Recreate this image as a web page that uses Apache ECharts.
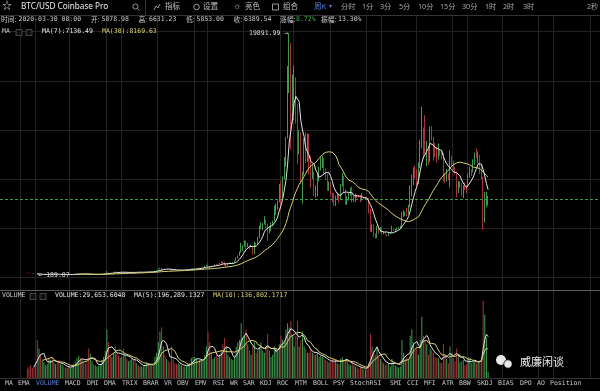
<!DOCTYPE html>
<html><head><meta charset="utf-8">
<script src="https://cdn.jsdelivr.net/npm/echarts@6/dist/echarts.min.js"></script>
<style>html,body{margin:0;padding:0;background:#000;}#c{width:600px;height:391px;}</style>
</head><body><div id="c"></div>
<script>
// ---- weekly candles [open, high, low, close], weeks start Monday 2014-12-01 ----
const y2014 = [[378,384,360,375],[375,378,340,350],[350,352,305,330],[330,336,310,317],[317,335,270,275]];
const y2015 = [
[275,300,263,268],[268,272,189.87,210],[210,255,205,253],[253,310,215,227],
[227,245,212,228],[228,260,215,235],[235,248,230,238],[238,265,234,260],
[260,298,258,275],[275,298,270,285],[285,292,245,247],[247,255,235,250],[250,260,240,255],
[255,260,235,237],[237,242,215,222],[222,238,218,228],[228,245,220,240],
[240,248,232,237],[237,245,233,236],[236,242,233,240],[240,242,222,225],
[225,232,220,230],[230,237,225,233],[233,252,232,244],[244,260,240,256],[256,282,250,272],
[272,300,263,290],[290,300,270,275],[275,296,272,291],[291,298,278,281],
[281,285,258,262],[262,275,255,258],[258,262,200,228],[228,236,198,231],[231,242,225,240],
[240,245,225,230],[230,234,225,232],[232,238,228,233],[233,248,232,245],
[245,255,240,254],[254,272,250,270],[270,295,265,294],[294,335,288,325],
[325,500,320,375],[375,390,300,330],[330,340,310,323],[323,380,315,378],[378,400,345,390],
[390,470,385,440],[440,467,430,438],[438,455,410,420],[420,435,415,430]];
const y2016 = [
[430,460,420,435],[435,448,365,380],[380,415,370,395],[395,400,365,368],
[368,390,365,378],[378,405,370,403],[403,440,400,435],[435,443,410,432],[432,440,405,410],
[410,420,405,414],[414,418,405,410],[410,420,405,415],[415,422,410,420],
[420,425,415,424],[424,432,420,430],[430,462,428,455],[455,468,440,450],
[450,465,440,460],[460,462,445,450],[450,455,435,445],[445,535,440,528],[528,590,525,580],
[580,700,575,690],[690,780,680,760],[760,765,550,660],[660,700,620,670],
[670,680,605,655],[655,680,645,660],[660,680,650,655],[655,660,620,625],
[625,630,480,590],[590,600,570,583],[583,590,570,580],[580,585,565,572],[572,610,565,605],
[605,630,600,608],[608,612,600,608],[608,610,590,602],[602,615,600,612],
[612,620,605,617],[617,645,610,640],[640,660,630,655],[655,720,650,700],[700,745,690,705],
[705,750,700,705],[705,750,700,740],[740,750,725,732],[732,775,725,765],
[765,785,755,775],[775,800,770,795],[795,940,790,920],[920,1000,890,1000]];
const y2017 = [
[1000,1150,880,905],[905,910,750,820],[820,930,810,920],[920,925,880,920],[920,1040,915,1020],
[1020,1070,950,1000],[1000,1060,990,1055],[1055,1190,1050,1180],[1180,1290,1170,1265],
[1265,1290,970,1230],[1230,1250,950,970],[970,1070,890,970],[970,1120,950,1090],
[1090,1210,1080,1180],[1180,1210,1160,1180],[1180,1260,1175,1250],[1250,1360,1245,1350],
[1350,1620,1340,1550],[1550,1780,1540,1760],[1760,2100,1750,2050],[2050,2800,2000,2300],[2300,2600,2150,2550],
[2550,3000,2500,2950],[2950,3000,2100,2600],[2600,2800,2460,2600],[2600,2600,2300,2500],
[2500,2650,2450,2520],[2520,2540,1850,1930],[1930,2900,1900,2760],[2760,2800,2500,2750],[2750,3300,2700,3230],
[3230,4200,3200,4100],[4100,4480,3900,4100],[4100,4400,3850,4350],[4350,4980,4300,4600],
[4600,4700,4000,4200],[4200,4350,2980,3700],[3700,4100,3580,3780],[3780,4450,3750,4380],
[4380,4620,4150,4600],[4600,5850,4600,5700],[5700,6000,5100,6000],[6000,6250,5500,6150],[6150,7600,6100,7400],
[7400,7880,5500,6550],[6550,8200,6500,8000],[8000,9800,8000,9700],[9700,11400,9000,11300],
[11300,17200,11300,15000],[15000,19891.99,15000,19100],[19100,19100,10400,13800],[13800,16500,12500,14150]];
const y2018 = [
[14150,17250,12800,16200],[16200,16300,12500,13600],[13600,14100,9200,11500],[11500,12000,10000,11750],[11750,11800,7600,8200],
[8200,8600,6000,8550],[8550,11300,8300,10400],[10400,11800,9300,9650],[9650,11700,9400,11450],
[11450,11700,8400,9550],[9550,9900,7300,8200],[8200,9200,8000,8450],[8450,8600,6600,6900],
[6900,7500,6500,7000],[7000,8400,6600,8000],[8000,9000,7800,8900],[8900,9750,8700,9250],[9250,9900,8900,9650],
[9650,9700,8400,8650],[8650,8880,7900,8200],[8200,8400,7050,7350],[7350,7800,7050,7650],
[7650,7750,6650,6750],[6750,6900,6100,6500],[6500,6850,5800,6150],[6150,6650,5800,6600],
[6600,6900,6350,6750],[6750,6800,6100,6350],[6350,7600,6300,7400],[7400,8500,7400,8200],[8200,8250,6900,7050],
[7050,7150,5900,6300],[6300,6600,5900,6400],[6400,6900,6250,6700],[6700,7300,6650,7300],
[7300,7400,6100,6250],[6250,6600,6150,6500],[6500,6800,6100,6700],[6700,6750,6450,6600],
[6600,6700,6500,6550],[6550,6700,6100,6300],[6300,6850,6250,6450],[6450,6500,6350,6400],[6400,6500,6300,6420],
[6420,6550,6300,6400],[6400,6450,5200,5600],[5600,5600,3700,3850],[3850,4300,3700,4100],
[4100,4300,3300,3550],[3550,3600,3150,3250],[3250,4200,3200,4000],[4000,4200,3550,3850],[3850,4100,3650,4050]];
const y2019 = [
[4050,4100,3500,3550],[3550,3750,3500,3550],[3550,3650,3450,3450],[3450,3500,3350,3400],
[3400,3700,3350,3650],[3650,3700,3550,3650],[3650,4200,3650,3950],[3950,3950,3750,3850],
[3850,3950,3700,3900],[3900,4050,3850,4000],[4000,4100,3950,4000],[4000,4200,3950,4150],
[4150,5350,4100,5050],[5050,5450,4900,5150],[5150,5350,5000,5300],[5300,5650,4950,5200],[5200,5900,5150,5750],
[5750,7500,5700,7250],[7250,8350,6600,8150],[8150,8950,7500,8750],[8750,9100,8050,8700],
[8700,8800,7450,7950],[7950,9350,7600,8950],[8950,11200,8900,10850],[10850,13880,10500,11900],
[11900,12200,9650,11450],[11450,13200,10000,10200],[10200,11100,9050,10650],[10650,10700,9150,9500],[9500,12300,9400,11800],
[11800,12300,11150,11400],[11400,11450,9500,10300],[10300,10950,9800,10100],[10100,10600,9350,9600],
[9600,10900,9600,10400],[10400,10450,9900,10300],[10300,10350,9600,10150],[10150,10150,7800,8050],[8050,8500,7700,7900],
[7900,8800,7800,8400],[8400,8450,7900,8200],[8200,10350,7300,9550],[9550,9900,8970,9200],
[9200,9500,8700,8800],[8800,9000,8400,8560],[8560,8600,6500,6900],[6900,7850,6850,7400],
[7400,7800,7300,7500],[7500,7650,6600,7100],[7100,7500,6450,7500],[7500,7700,7100,7454],[7454,7500,6850,7350]];
const y2020 = [
[7350,8450,7350,8180],[8180,9000,8100,8650],[8650,8800,8250,8600],[8600,9600,8550,9340],
[9340,10150,9150,10150],[10150,10500,9700,9900],[9900,10250,9300,9936],[9936,9970,8400,8530],
[8530,9200,8000,8030],[8030,8180,3858,5360],[5360,6950,4450,5830],[5830,6980,5700,5878.98],[5878.98,6631.23,5853,6389.54]];

// ---- weekly volume (BTC) ----
const v2014 = [45000,52000,60000,48000,55000];
const v2015 = [70000,180000,140000,110000, 80000,75000,60000,65000, 90000,85000,100000,75000,65000,
 70000,85000,65000,60000, 55000,50000,48000,55000, 50000,52000,68000,75000,95000,
 105000,95000,85000,78000, 70000,75000,140000,115000,80000, 65000,60000,55000,58000,
 65000,85000,100000,130000, 230000,170000,110000,100000,120000, 150000,115000,105000,95000];
const v2016 = [100000,140000,110000,90000, 80000,85000,95000,90000,85000, 70000,60000,55000,55000,
 55000,60000,75000,70000, 65000,60000,58000,100000,120000, 170000,220000,240000,150000,
 110000,90000,80000,75000, 150000,90000,70000,65000,70000, 65000,60000,55000,55000,
 55000,65000,70000,95000,100000, 100000,90000,80000,85000, 80000,85000,110000,150000];
const v2017 = [220000,170000,120000,90000,100000, 110000,95000,110000,130000, 160000,190000,150000,110000,
 100000,90000,85000,100000, 150000,170000,180000,260000,190000, 200000,230000,160000,130000,
 110000,150000,170000,120000,130000, 150000,170000,130000,120000, 140000,210000,130000,100000,
 110000,150000,140000,130000,160000, 200000,180000,170000,230000, 260000,240000,270000,200000];
const v2018 = [150000,200000,270000,150000,180000, 220000,150000,140000,120000, 120000,140000,120000,110000,
 110000,120000,100000,105000,100000, 90000,85000,80000,75000, 75000,90000,80000,85000,
 70000,65000,90000,100000,85000, 90000,80000,65000,60000, 75000,60000,55000,50000,
 45000,55000,50000,40000,40000, 45000,70000,210000,150000, 130000,110000,140000,100000,90000];
const v2019 = [80000,70000,60000,65000, 70000,55000,90000,75000, 60000,55000,50000,55000,
 180000,120000,90000,100000,90000, 200000,230000,170000,130000, 140000,110000,180000,290000,
 200000,180000,160000,110000,140000, 130000,120000,100000,95000, 95000,75000,70000,160000,110000,
 90000,70000,150000,120000, 95000,80000,140000,110000, 75000,80000,85000,60000,65000];
const v2020 = [100000,95000,70000,78000, 82000,70000,75000,81571, 95000,366000,300000,190792,29653.6048];

// ---- header texts: [label, labelX, value, valueX, valueColor] ----
const infoTexts = [
 ['时间:',1,'2020-03-30 08:00',18.5,'#c8c8c8'],['开:',91,'5878.98',101.5,'#c8c8c8'],['高:',138.5,'6631.23',149,'#c8c8c8'],
 ['低:',186,'5853.00',196.5,'#c8c8c8'],['收:',233.5,'6389.54',244,'#c8c8c8'],['涨幅:',280,'8.72%',296,'#3fae4f'],
 ['振幅:',321,'13.30%',338,'#c8c8c8']];
const maTexts = [['MA',2,'#d0d0d0'],['MA(7):7136.49',42,'#e6e6e6'],['MA(30):8169.63',102,'#d8d070']];
const volTexts = [['VOLUME',2,'#d0d0d0'],['VOLUME:29,653.6048',55,'#e6e6e6'],['MA(5):196,289.1327',134,'#e6e6e6'],['MA(10):136,802.1717',213,'#d8d070']];
const toolTexts = [['指标',165],['设置',203],['亮色',245],['组合',283]];
const periodTexts = [['分时',341],['1分',362],['3分',380],['5分',399],['10分',418],['15分',440],['30分',462],['1时',485],['2时',503],['3时',523],['2秒',587]];
const indicatorTexts = [['MA',5],['EMA',18],['VOLUME',36],['MACD',65],['DMI',87],['DMA',104],['TRIX',122],['BRAR',143],['VR',164],['OBV',177],['EMV',195],['RSI',213],['WR',230],['SAR',243],['KDJ',260],['ROC',277],['MTM',295],['BOLL',313],['PSY',333],['StochRSI',350],['SMI',390],['CCI',407],['MFI',424],['ATR',442],['BBW',459],['SKDJ',477],['BIAS',498],['DPO',520],['AO',537],['Position',550]];
const gridMonths = [1,6,11];

// ---- build ----
const ohlc = [].concat(y2014,y2015,y2016,y2017,y2018,y2019,y2020);
const vols = [].concat(v2014,v2015,v2016,v2017,v2018,v2019,v2020);
const N = ohlc.length, PAD = 16, SLOTS = 362;
const START = Date.UTC(2014,11,1);
const cats = [];
for (let i=0;i<SLOTS;i++){ cats.push(new Date(START+(i-PAD)*7*86400000).toISOString().slice(0,10)); }
const closes = ohlc.map(r=>r[3]);
function ma(arr,n){ return arr.map((_,i)=>{ if(i<n-1) return '-'; let s=0; for(let k=i-n+1;k<=i;k++) s+=arr[k]; return +(s/n).toFixed(2); }); }
function pad(arr){ const out=[]; for(let i=0;i<SLOTS;i++){ const k=i-PAD; out.push(k>=0&&k<arr.length?arr[k]:'-'); } return out; }
const UP='#3f9a4f', DOWN='#a8343a';
const candleData = pad(ohlc.map(r=>[r[0],r[3],r[2],r[1]])).map(d=>d==='-'?['-','-','-','-']:d);
const volData = pad(vols.map((v,i)=>({value:v,itemStyle:{color: ohlc[i][3]>=ohlc[i][0]?UP:DOWN}})));
const ma7 = pad(ma(closes,7)), ma30 = pad(ma(closes,30));
const vma5 = pad(ma(vols,5)), vma10 = pad(ma(vols,10));
const lastClose = closes[N-1];

const mono = "'DejaVu Sans Mono','Noto Sans CJK SC',monospace";
const sans = "'Noto Sans','Noto Sans CJK SC',sans-serif";
const cjk = "'Noto Sans CJK SC',sans-serif";
const FS = 6.5;
function txt(t,x,y,color,size,family,weight){ return {type:'text',left:x,top:y-size*0.62,z:100,style:{text:t,fill:color,font:(weight||'normal')+' '+size+'px '+family}}; }
const graphics = [];
graphics.push({type:'rect',z:40,shape:{x:0,y:0,width:600,height:15},style:{fill:'#000'}});
graphics.push({type:'rect',z:40,shape:{x:0,y:379,width:600,height:12},style:{fill:'#000'}});
graphics.push({type:'line',z:50,shape:{x1:0,y1:15.5,x2:600,y2:15.5},style:{stroke:'#333',lineWidth:1}});
graphics.push({type:'line',z:50,shape:{x1:145.5,y1:0,x2:145.5,y2:15},style:{stroke:'#333',lineWidth:1}});
graphics.push({type:'line',z:50,shape:{x1:0,y1:290.5,x2:600,y2:290.5},style:{stroke:'#5a5a5a',lineWidth:1}});
graphics.push({type:'line',z:50,shape:{x1:0,y1:378.5,x2:600,y2:378.5},style:{stroke:'#333',lineWidth:1}});
graphics.push(txt('☆',2,7.5,'#cfcfcf',10,sans));
graphics.push(txt('BTC/USD Coinbase Pro',21,7.5,'#eeeeee',8.2,sans));
graphics.push({type:'circle',z:100,shape:{cx:135.5,cy:6.5,r:2.6},style:{stroke:'#aaa',fill:'none',lineWidth:0.9}});
graphics.push({type:'line',z:100,shape:{x1:137.5,y1:8.5,x2:139.5,y2:10.5},style:{stroke:'#aaa',lineWidth:0.9}});
graphics.push({type:'polyline',z:100,shape:{points:[[154,10],[156,6],[158,8],[160,4]]},style:{stroke:'#aaa',fill:'none',lineWidth:0.9}});
graphics.push({type:'circle',z:100,shape:{cx:196.5,cy:7,r:2.8},style:{stroke:'#aaa',fill:'none',lineWidth:0.9}});
graphics.push(txt('☼',233,7.5,'#bbb',9,sans));
graphics.push({type:'rect',z:100,shape:{x:272.5,y:4,width:6,height:6},style:{stroke:'#aaa',fill:'none',lineWidth:0.9}});
toolTexts.forEach(t=>graphics.push(txt(t[0],t[1],7.5,'#c0c0c0',7.5,sans)));
graphics.push(txt('周K',314,7.5,'#5b7fe0',7.5,sans));
graphics.push(txt('▾',329,7.5,'#5b7fe0',6,sans));
periodTexts.forEach(t=>graphics.push(txt(t[0],t[1],7.5,'#a8a8a8',7.2,sans)));
infoTexts.forEach(t=>{ graphics.push(txt(t[0],t[1],20.5,'#c8c8c8',6.8,cjk)); graphics.push(txt(t[2],t[3],20.5,t[4],FS,mono)); });
maTexts.forEach(t=>graphics.push(txt(t[0],t[1],32.5,t[2],FS,mono)));
volTexts.forEach(t=>graphics.push(txt(t[0],t[1],296.5,t[2],FS,mono)));
[[16,29.5],[26,29.5],[30,293.5],[40,293.5]].forEach(p=>graphics.push({type:'rect',z:100,shape:{x:p[0],y:p[1],width:6,height:6},style:{stroke:'#555',fill:'#111',lineWidth:0.8}}));
indicatorTexts.forEach(t=>graphics.push(txt(t[0],t[1],384.5,t[0]==='VOLUME'?'#5b7fe0':'#c8c8c8',FS,mono)));
// watermark
graphics.push({type:'circle',z:100,shape:{cx:501,cy:360,r:5},style:{fill:'#e8e8e8'}});
graphics.push({type:'circle',z:101,shape:{cx:508,cy:364,r:4.2},style:{fill:'#e8e8e8',stroke:'#000',lineWidth:0.8}});
graphics.push(txt('威廉闲谈',520,364,'#eeeeee',11,sans));

function isGridWeek(v){ const m=+v.slice(5,7), d=+v.slice(8,10); return gridMonths.indexOf(m)>=0 && d<=7; }

const chart = echarts.init(document.getElementById('c'));
chart.setOption({
 backgroundColor:'#000', animation:false,
 grid:[{left:0,right:0,top:16,height:362},{left:0,right:0,top:31.67,height:245.66},{left:0,right:0,top:300,height:78}],
 xAxis:[
  {gridIndex:0,type:'category',data:cats,boundaryGap:true,axisLine:{show:false},axisTick:{show:false},axisLabel:{show:false},
   splitLine:{show:true,interval:function(i,v){return isGridWeek(v);},lineStyle:{color:'#232323',width:1}}},
  {gridIndex:1,type:'category',data:cats,boundaryGap:true,show:false},
  {gridIndex:2,type:'category',data:cats,boundaryGap:true,show:false}],
 yAxis:[
  {gridIndex:0,type:'value',show:false},
  {gridIndex:1,type:'value',min:0,max:20000,interval:4000,axisLabel:{show:false},axisLine:{show:false},axisTick:{show:false},splitLine:{show:true,lineStyle:{color:'#232323'}}},
  {gridIndex:2,type:'value',min:0,max:370000,axisLabel:{show:false},axisLine:{show:false},axisTick:{show:false},splitLine:{show:false}}],
 series:[
  {type:'candlestick',xAxisIndex:1,yAxisIndex:1,data:candleData,barWidth:1,
   itemStyle:{color:UP,color0:DOWN,borderColor:UP,borderColor0:DOWN,borderWidth:1},
   markPoint:{symbol:'circle',symbolSize:0.1,silent:true,
    data:[{type:'max',valueDim:'highest',label:{position:'left',distance:1,formatter:p=>p.value.toFixed(2)+' →'}},
          {type:'min',valueDim:'lowest',label:{position:'right',distance:1,formatter:p=>'← '+p.value.toFixed(2)}}],
    label:{show:true,color:'#dddddd',fontSize:FS,fontFamily:mono}},
   markLine:{symbol:'none',silent:true,label:{show:false},lineStyle:{color:'#3f9a4f',type:[3,2],width:1},data:[{yAxis:lastClose}]}},
  {type:'line',xAxisIndex:1,yAxisIndex:1,data:ma7,showSymbol:false,lineStyle:{color:'#e4e4e4',width:1},z:5},
  {type:'line',xAxisIndex:1,yAxisIndex:1,data:ma30,showSymbol:false,lineStyle:{color:'#d8d070',width:1},z:5},
  {type:'bar',xAxisIndex:2,yAxisIndex:2,data:volData,barWidth:1},
  {type:'line',xAxisIndex:2,yAxisIndex:2,data:vma5,showSymbol:false,lineStyle:{color:'#e4e4e4',width:1},z:5},
  {type:'line',xAxisIndex:2,yAxisIndex:2,data:vma10,showSymbol:false,lineStyle:{color:'#d8d070',width:1},z:5}
 ],
 graphic:graphics
});
</script></body></html>
